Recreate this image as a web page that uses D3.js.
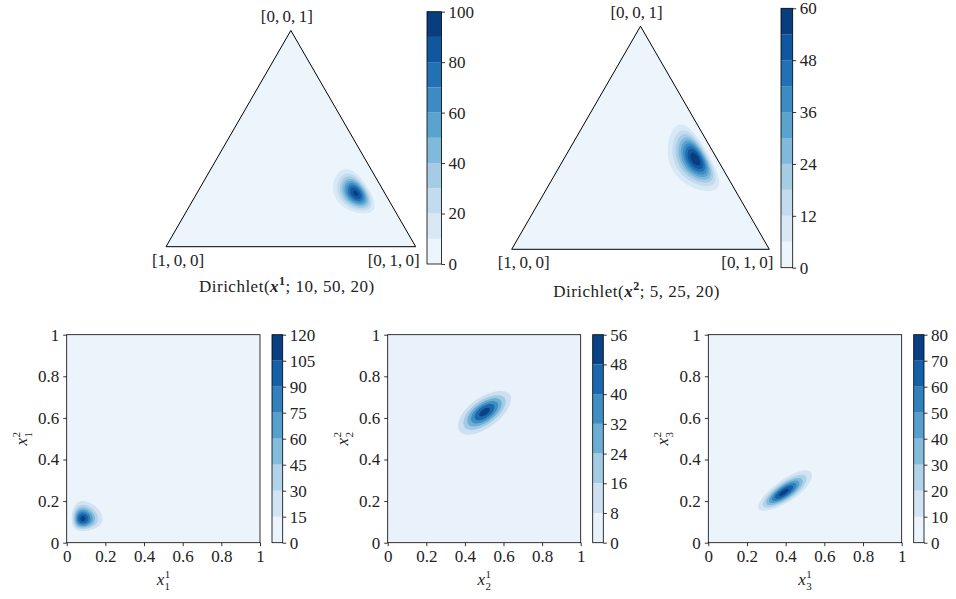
<!DOCTYPE html>
<html>
  <head>
    <meta charset="utf-8">
    <title>Dirichlet densities</title>
    <script src="https://d3js.org/d3.v7.min.js"></script>
    <style>
      body { margin: 0; background: #fff; }
      .spine { fill: none; stroke: #000; stroke-width: 0.8px; }
      .axis path { display: none; }
      .axis line { stroke: #000; stroke-width: 0.8px; }
    </style>
  </head>
  <body>
    <script>
      // parameters of the two Dirichlet distributions
      const alpha1 = [10, 50, 20];
      const alpha2 = [5, 25, 20];
      // correlation of the coupling for each component (x_k^1, x_k^2)
      const componentRho = [0, 0.6, 0.77];

      // filled contour levels and colorbar ticks
      const levelsTri1 = [0, 10, 20, 30, 40, 50, 60, 70, 80, 90, 100];
      const ticksTri1 = [0, 20, 40, 60, 80, 100];
      const levelsTri2 = [0, 6, 12, 18, 24, 30, 36, 42, 48, 54, 60];
      const ticksTri2 = [0, 12, 24, 36, 48, 60];
      const levelsComp = [
        [0, 15, 30, 45, 60, 75, 90, 105, 120],
        [0, 8, 16, 24, 32, 40, 48, 56],
        [0, 10, 20, 30, 40, 50, 60, 70, 80]
      ];
      const vertexLabels = ["[1,\u20090,\u20090]", "[0,\u20091,\u20090]", "[0,\u20090,\u20091]"];
      const axisTicks = [0, 0.2, 0.4, 0.6, 0.8, 1];

      const FONT = "'Liberation Serif', 'Times New Roman', serif";
      const W = 956, H = 599;
      const svg = d3.select("body").append("svg")
        .attr("width", W).attr("height", H)
        .attr("font-family", FONT).attr("font-size", 17).attr("fill", "#222");
      const bandColor = (i, n) => d3.interpolateBlues((i + 0.5) / n);
      const H3 = Math.sqrt(3) / 2;

      // --- numerics ---
      function lgamma(z) {
        const c = [0.99999999999980993, 676.5203681218851, -1259.1392167224028, 771.32342877765313,
          -176.61502916214059, 12.507343278686905, -0.13857109526572012, 9.9843695780195716e-6, 1.5056327351493116e-7];
        z -= 1;
        let x = c[0];
        for (let i = 1; i < 9; i++) x += c[i] / (z + i);
        const t = z + 7.5;
        return 0.5 * Math.log(2 * Math.PI) + (z + 0.5) * Math.log(t) - t + Math.log(x);
      }
      function dirichletPdf(a, x) {
        if (x.some(v => v <= 0)) return 0;
        let s = lgamma(d3.sum(a));
        a.forEach((ai, i) => { s += -lgamma(ai) + (ai - 1) * Math.log(x[i]); });
        return Math.exp(s);
      }
      function betaPdf(a, b, x) {
        if (x <= 0 || x >= 1) return 0;
        return Math.exp(lgamma(a + b) - lgamma(a) - lgamma(b) + (a - 1) * Math.log(x) + (b - 1) * Math.log(1 - x));
      }
      function betacf(a, b, x) {
        const FPMIN = 1e-300;
        const qab = a + b, qap = a + 1, qam = a - 1;
        let c = 1, d = 1 - qab * x / qap;
        if (Math.abs(d) < FPMIN) d = FPMIN;
        d = 1 / d;
        let h = d;
        for (let m = 1; m <= 300; m++) {
          const m2 = 2 * m;
          let aa = m * (b - m) * x / ((qam + m2) * (a + m2));
          d = 1 + aa * d; if (Math.abs(d) < FPMIN) d = FPMIN;
          c = 1 + aa / c; if (Math.abs(c) < FPMIN) c = FPMIN;
          d = 1 / d; h *= d * c;
          aa = -(a + m) * (qab + m) * x / ((a + m2) * (qap + m2));
          d = 1 + aa * d; if (Math.abs(d) < FPMIN) d = FPMIN;
          c = 1 + aa / c; if (Math.abs(c) < FPMIN) c = FPMIN;
          d = 1 / d;
          const del = d * c;
          h *= del;
          if (Math.abs(del - 1) < 3e-14) break;
        }
        return h;
      }
      function betaCdf(a, b, x) {
        if (x <= 0) return 0;
        if (x >= 1) return 1;
        const bt = Math.exp(lgamma(a + b) - lgamma(a) - lgamma(b) + a * Math.log(x) + b * Math.log(1 - x));
        return x < (a + 1) / (a + b + 2) ? bt * betacf(a, b, x) / a : 1 - bt * betacf(b, a, 1 - x) / b;
      }
      function probit(p) {
        const a = [-3.969683028665376e+01, 2.209460984245205e+02, -2.759285104469687e+02, 1.383577518672690e+02, -3.066479806614716e+01, 2.506628277459239e+00];
        const b = [-5.447609879822406e+01, 1.615858368580409e+02, -1.556989798598866e+02, 6.680131188771972e+01, -1.328068155288572e+01];
        const c = [-7.784894002430293e-03, -3.223964580411365e-01, -2.400758277161838e+00, -2.549671010173187e+00, 4.374664141464968e+00, 2.938163982698783e+00];
        const d = [7.784695709041462e-03, 3.224671290700398e-01, 2.445134137142996e+00, 3.754408661907416e+00];
        p = Math.min(Math.max(p, 1e-15), 1 - 1e-15);
        let q, r;
        if (p < 0.02425) {
          q = Math.sqrt(-2 * Math.log(p));
          return (((((c[0]*q+c[1])*q+c[2])*q+c[3])*q+c[4])*q+c[5]) / ((((d[0]*q+d[1])*q+d[2])*q+d[3])*q+1);
        }
        if (p > 1 - 0.02425) {
          q = Math.sqrt(-2 * Math.log(1 - p));
          return -(((((c[0]*q+c[1])*q+c[2])*q+c[3])*q+c[4])*q+c[5]) / ((((d[0]*q+d[1])*q+d[2])*q+d[3])*q+1);
        }
        q = p - 0.5; r = q * q;
        return (((((a[0]*r+a[1])*r+a[2])*r+a[3])*r+a[4])*r+a[5])*q / (((((b[0]*r+b[1])*r+b[2])*r+b[3])*r+b[4])*r+1);
      }

      // --- drawing helpers ---
      function styleAxis(g) {
        g.attr("font-family", FONT).attr("font-size", 17);
        g.selectAll("text").attr("fill", "#222");
      }

      function fillBands(g, values, nx, ny, levels, sx, sy) {
        const n = levels.length - 1;
        const path = d3.geoPath(d3.geoTransform({
          point(x, y) { this.stream.point(sx(x), sy(y)); }
        }));
        const contours = d3.contours().size([nx, ny]).thresholds(levels.slice(1, -1))(values);
        g.selectAll("path.band").data(contours).join("path")
          .attr("class", "band")
          .attr("d", path)
          .attr("fill", (d, i) => bandColor(i + 1, n));
      }

      function colorbar(x, y0, y1, w, levels, ticks) {
        const n = levels.length - 1;
        const s = d3.scaleLinear().domain([levels[0], levels[n]]).range([y1, y0]);
        const g = svg.append("g");
        g.selectAll("rect").data(d3.range(n)).join("rect")
          .attr("x", x).attr("width", w)
          .attr("y", i => s(levels[i + 1]))
          .attr("height", i => s(levels[i]) - s(levels[i + 1]))
          .attr("fill", i => bandColor(i, n));
        g.append("rect").attr("class", "spine").attr("x", x).attr("y", y0).attr("width", w).attr("height", y1 - y0);
        g.append("g").attr("class", "axis")
          .attr("transform", `translate(${x + w},0)`)
          .call(d3.axisRight(s).tickValues(ticks).tickSize(3.5).tickPadding(3.5).tickSizeOuter(0))
          .call(styleAxis);
      }

      function ternary(BL, side, alpha, levels, ticks, cb, titleY, supText) {
        const g = svg.append("g");
        const top = [BL[0] + side / 2, BL[1] - side * H3];
        const BR = [BL[0] + side, BL[1]];
        const nx = 320, ny = 280;
        const values = new Float64Array(nx * ny);
        for (let j = 0; j < ny; j++) {
          const v = H3 * (1 - j / (ny - 1));
          for (let i = 0; i < nx; i++) {
            const u = i / (nx - 1);
            const x3 = v / H3, x2 = u - x3 / 2, x1 = 1 - x2 - x3;
            values[j * nx + i] = dirichletPdf(alpha, [x1, x2, x3]);
          }
        }
        const sx = d3.scaleLinear().domain([0.5, nx - 0.5]).range([BL[0], BR[0]]);
        const sy = d3.scaleLinear().domain([0.5, ny - 0.5]).range([top[1], BL[1]]);
        const tri = [BL, BR, top].map(p => p.join(",")).join(" ");
        const id = "clip" + Math.round(BL[0]);
        svg.append("clipPath").attr("id", id).append("polygon").attr("points", tri);
        const inner = g.append("g").attr("clip-path", `url(#${id})`);
        inner.append("polygon").attr("points", tri).attr("fill", bandColor(0, levels.length - 1));
        fillBands(inner, values, nx, ny, levels, sx, sy);
        g.append("polygon").attr("points", tri).attr("fill", "none").attr("stroke", "#000").attr("stroke-width", 1);

        g.append("text").attr("x", BL[0] + 12).attr("y", BL[1] + 19).attr("text-anchor", "middle").text(vertexLabels[0]);
        g.append("text").attr("x", BR[0] - 22).attr("y", BR[1] + 19).attr("text-anchor", "middle").text(vertexLabels[1]);
        g.append("text").attr("x", top[0] - 4).attr("y", top[1] - 8).attr("text-anchor", "middle").text(vertexLabels[2]);

        const t = g.append("text").attr("x", top[0] - 4).attr("y", titleY)
          .attr("text-anchor", "middle").attr("letter-spacing", 0.5);
        t.append("tspan").text("Dirichlet(");
        t.append("tspan").attr("font-weight", "bold").attr("font-style", "italic").text("x");
        t.append("tspan").attr("font-weight", "bold").attr("font-size", 12).attr("dy", -7).text(supText);
        t.append("tspan").attr("dy", 7).text("; " + alpha.join(", ") + ")");

        colorbar(cb[0], cb[1], cb[2], cb[3], levels, ticks);
      }

      function mathLabel(x, y, sub, sup, rot) {
        const t = svg.append("text")
          .attr("transform", `translate(${x},${y}) rotate(${rot})`)
          .attr("text-anchor", "middle");
        t.append("tspan").attr("font-style", "italic").text("x");
        t.append("tspan").attr("font-size", 11).attr("dy", -7).attr("dx", 0.5).text(sup);
        t.append("tspan").attr("font-size", 11).attr("dy", 12).attr("dx", -5.5).text(sub);
      }

      function component(k, x0, x1, y0, y1, cb) {
        const aX = alpha2[k], bX = d3.sum(alpha2) - aX;
        const aY = alpha1[k], bY = d3.sum(alpha1) - aY;
        const rho = componentRho[k];
        const nx = 300, ny = 300;
        const fx = [], zx = [], fy = [], zy = [];
        for (let i = 0; i < nx; i++) {
          const x = i / (nx - 1);
          fx.push(betaPdf(aX, bX, x));
          zx.push(probit(betaCdf(aX, bX, x)));
        }
        for (let j = 0; j < ny; j++) {
          const y = 1 - j / (ny - 1);
          fy.push(betaPdf(aY, bY, y));
          zy.push(probit(betaCdf(aY, bY, y)));
        }
        const r2 = 1 - rho * rho;
        const values = new Float64Array(nx * ny);
        for (let j = 0; j < ny; j++) {
          for (let i = 0; i < nx; i++) {
            const a = zx[i], b = zy[j];
            const c = Math.exp(-(rho * rho * (a * a + b * b) - 2 * rho * a * b) / (2 * r2)) / Math.sqrt(r2);
            values[j * nx + i] = fx[i] * fy[j] * c;
          }
        }
        const levels = levelsComp[k];
        const g = svg.append("g");
        g.append("rect").attr("x", x0).attr("y", y0).attr("width", x1 - x0).attr("height", y1 - y0)
          .attr("fill", bandColor(0, levels.length - 1));
        const sx = d3.scaleLinear().domain([0.5, nx - 0.5]).range([x0, x1]);
        const sy = d3.scaleLinear().domain([0.5, ny - 0.5]).range([y0, y1]);
        fillBands(g, values, nx, ny, levels, sx, sy);
        g.append("rect").attr("class", "spine").attr("x", x0).attr("y", y0).attr("width", x1 - x0).attr("height", y1 - y0);

        const xs = d3.scaleLinear().domain([0, 1]).range([x0, x1]);
        const ys = d3.scaleLinear().domain([0, 1]).range([y1, y0]);
        g.append("g").attr("class", "axis").attr("transform", `translate(0,${y1})`)
          .call(d3.axisBottom(xs).tickValues(axisTicks).tickFormat(String).tickSize(3.5).tickPadding(4).tickSizeOuter(0))
          .call(styleAxis);
        g.append("g").attr("class", "axis").attr("transform", `translate(${x0},0)`)
          .call(d3.axisLeft(ys).tickValues(axisTicks).tickFormat(String).tickSize(3.5).tickPadding(4).tickSizeOuter(0))
          .call(styleAxis);

        mathLabel((x0 + x1) / 2, y1 + 42, String(k + 1), "1", 0);
        mathLabel(x0 - 40, (y0 + y1) / 2, String(k + 1), "2", -90);

        colorbar(cb[0], y0, y1, cb[1], levels, levels);
      }

      ternary([166, 246.7], 249.7, alpha1, levelsTri1, ticksTri1, [427, 11.7, 264, 14.5], 292, "1");
      ternary([511.7, 249.3], 257.6, alpha2, levelsTri2, ticksTri2, [781, 8.3, 267.7, 11.7], 297, "2");

      component(0, 66.7, 260, 334.7, 542.7, [272, 10.7]);
      component(1, 387.7, 580.7, 334.7, 542.7, [592.7, 10.6]);
      component(2, 708.3, 901.7, 334.7, 542.7, [913.7, 10.3]);
    </script>
  </body>
</html>
